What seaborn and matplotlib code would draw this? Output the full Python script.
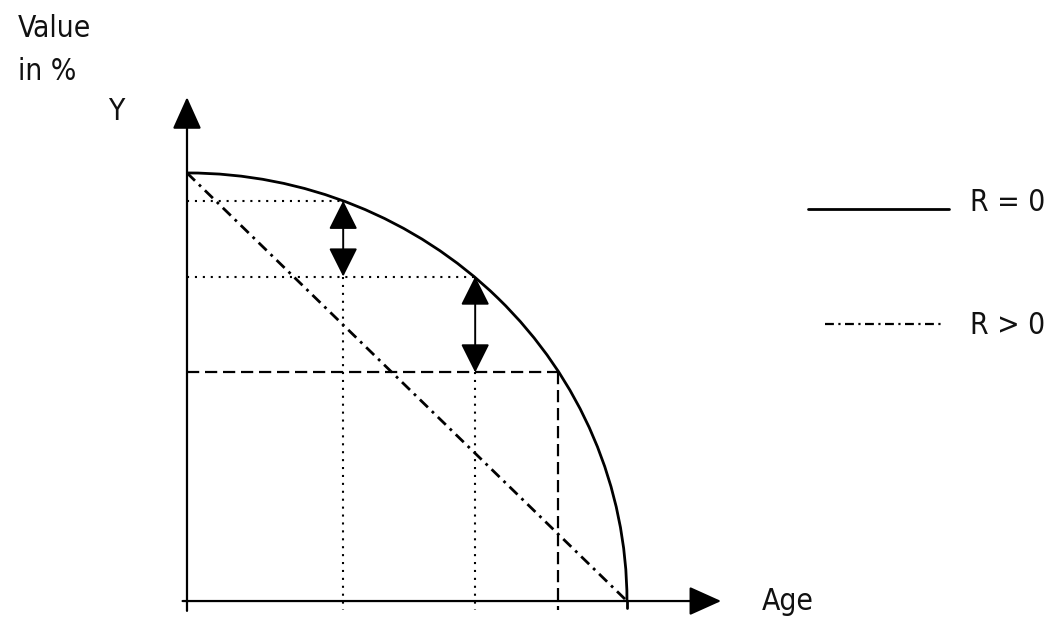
import matplotlib
matplotlib.use("Agg")
import matplotlib.pyplot as plt
import seaborn as sns
from matplotlib.patches import Arc

# values (age in % of max age, value in %)
curve_max_age = 100
curve_max_value = 100
age_marks = [35.5, 65.5, 84.3]       # the three ages that are marked
value_marks = [93.5, 75.8, 53.4]     # value of the R = 0 curve at those ages
diag_age = [0, 100]
diag_value = [100, 0]
legend_labels = ["R = 0", "R > 0"]

sns.set_theme(style="white")
plt.rcParams["font.family"] = ["DejaVu Sans"]

fig = plt.figure(figsize=(10.52, 6.28), dpi=100)
ax = fig.add_axes([0, 0, 1, 1])
ax.set_xlim(-42.5, 196.6)
ax.set_ylim(-6.3, 140.4)
ax.axis("off")

txt = dict(fontsize=21.5, color="#111111", fontstretch="condensed")

# axes with arrow heads
head = dict(arrowstyle="-|>,head_length=1.0,head_width=0.45", mutation_scale=20,
            lw=1.6, color="black", shrinkA=0, shrinkB=0)
ax.annotate("", xy=(0, 117.7), xytext=(0, -2.3), arrowprops=head)
ax.annotate("", xy=(121.4, 0), xytext=(-1, 0), arrowprops=head)

# R = 0 : quarter ellipse
ax.add_patch(Arc((0, 0), 2 * curve_max_age, 2 * curve_max_value, theta1=0, theta2=90,
                 color="black", lw=2.0))
ax.plot([curve_max_age, curve_max_age], [0, -1.6], color="black", lw=2.0)

# R > 0 : straight line
sns.lineplot(x=diag_age, y=diag_value, ax=ax, color="black", lw=2.0,
             dashes=False, linestyle=(0, (4.0, 2.0, 1, 2.0)))

dotted = dict(color="black", lw=1.5, linestyle=(0, (1, 2.8)))
dashed = dict(color="black", lw=1.6, linestyle=(0, (5.5, 2.6)))

# first marked age
ax.plot([0, age_marks[0]], [value_marks[0]] * 2, **dotted)
ax.plot([age_marks[0]] * 2, [value_marks[1], -2], **dotted)
# second marked age
ax.plot([0, age_marks[1]], [value_marks[1]] * 2, **dotted)
ax.plot([age_marks[1]] * 2, [value_marks[2], -2], **dotted)
# third marked age
ax.plot([0, age_marks[2]], [value_marks[2]] * 2, **dashed)
ax.plot([age_marks[2]] * 2, [value_marks[2], -2], **dashed)

# double arrows showing the gap
dbl = dict(arrowstyle="<|-|>,head_length=0.9,head_width=0.45", mutation_scale=20,
           lw=1.4, color="black", shrinkA=0, shrinkB=0)
ax.annotate("", xy=(age_marks[0], value_marks[0]), xytext=(age_marks[0], value_marks[1]),
            arrowprops=dbl)
ax.annotate("", xy=(age_marks[1], value_marks[1]), xytext=(age_marks[1], value_marks[2]),
            arrowprops=dbl)

# labels
ax.text(-38.4, 131.8, "Value", ha="left", va="baseline", **txt)
ax.text(-38.4, 121.7, "in %", ha="left", va="baseline", **txt)
ax.text(-16.1, 112.4, "Y", ha="center", va="baseline", **txt)
ax.text(130.7, 0, "Age", ha="left", va="center", **txt)

# legend drawn by hand to match the figure
ax.plot([141.1, 173.2], [91.6, 91.6], color="black", lw=2.0)
ax.plot([145.0, 172.3], [64.7, 64.7], color="black", lw=1.6,
        linestyle=(0, (4.0, 2.0, 1, 2.0)))
ax.text(178.0, 93.2, legend_labels[0], ha="left", va="center", **txt)
ax.text(178.0, 64.3, legend_labels[1], ha="left", va="center", **txt)

fig.savefig("out.png", dpi=100, facecolor="white")
